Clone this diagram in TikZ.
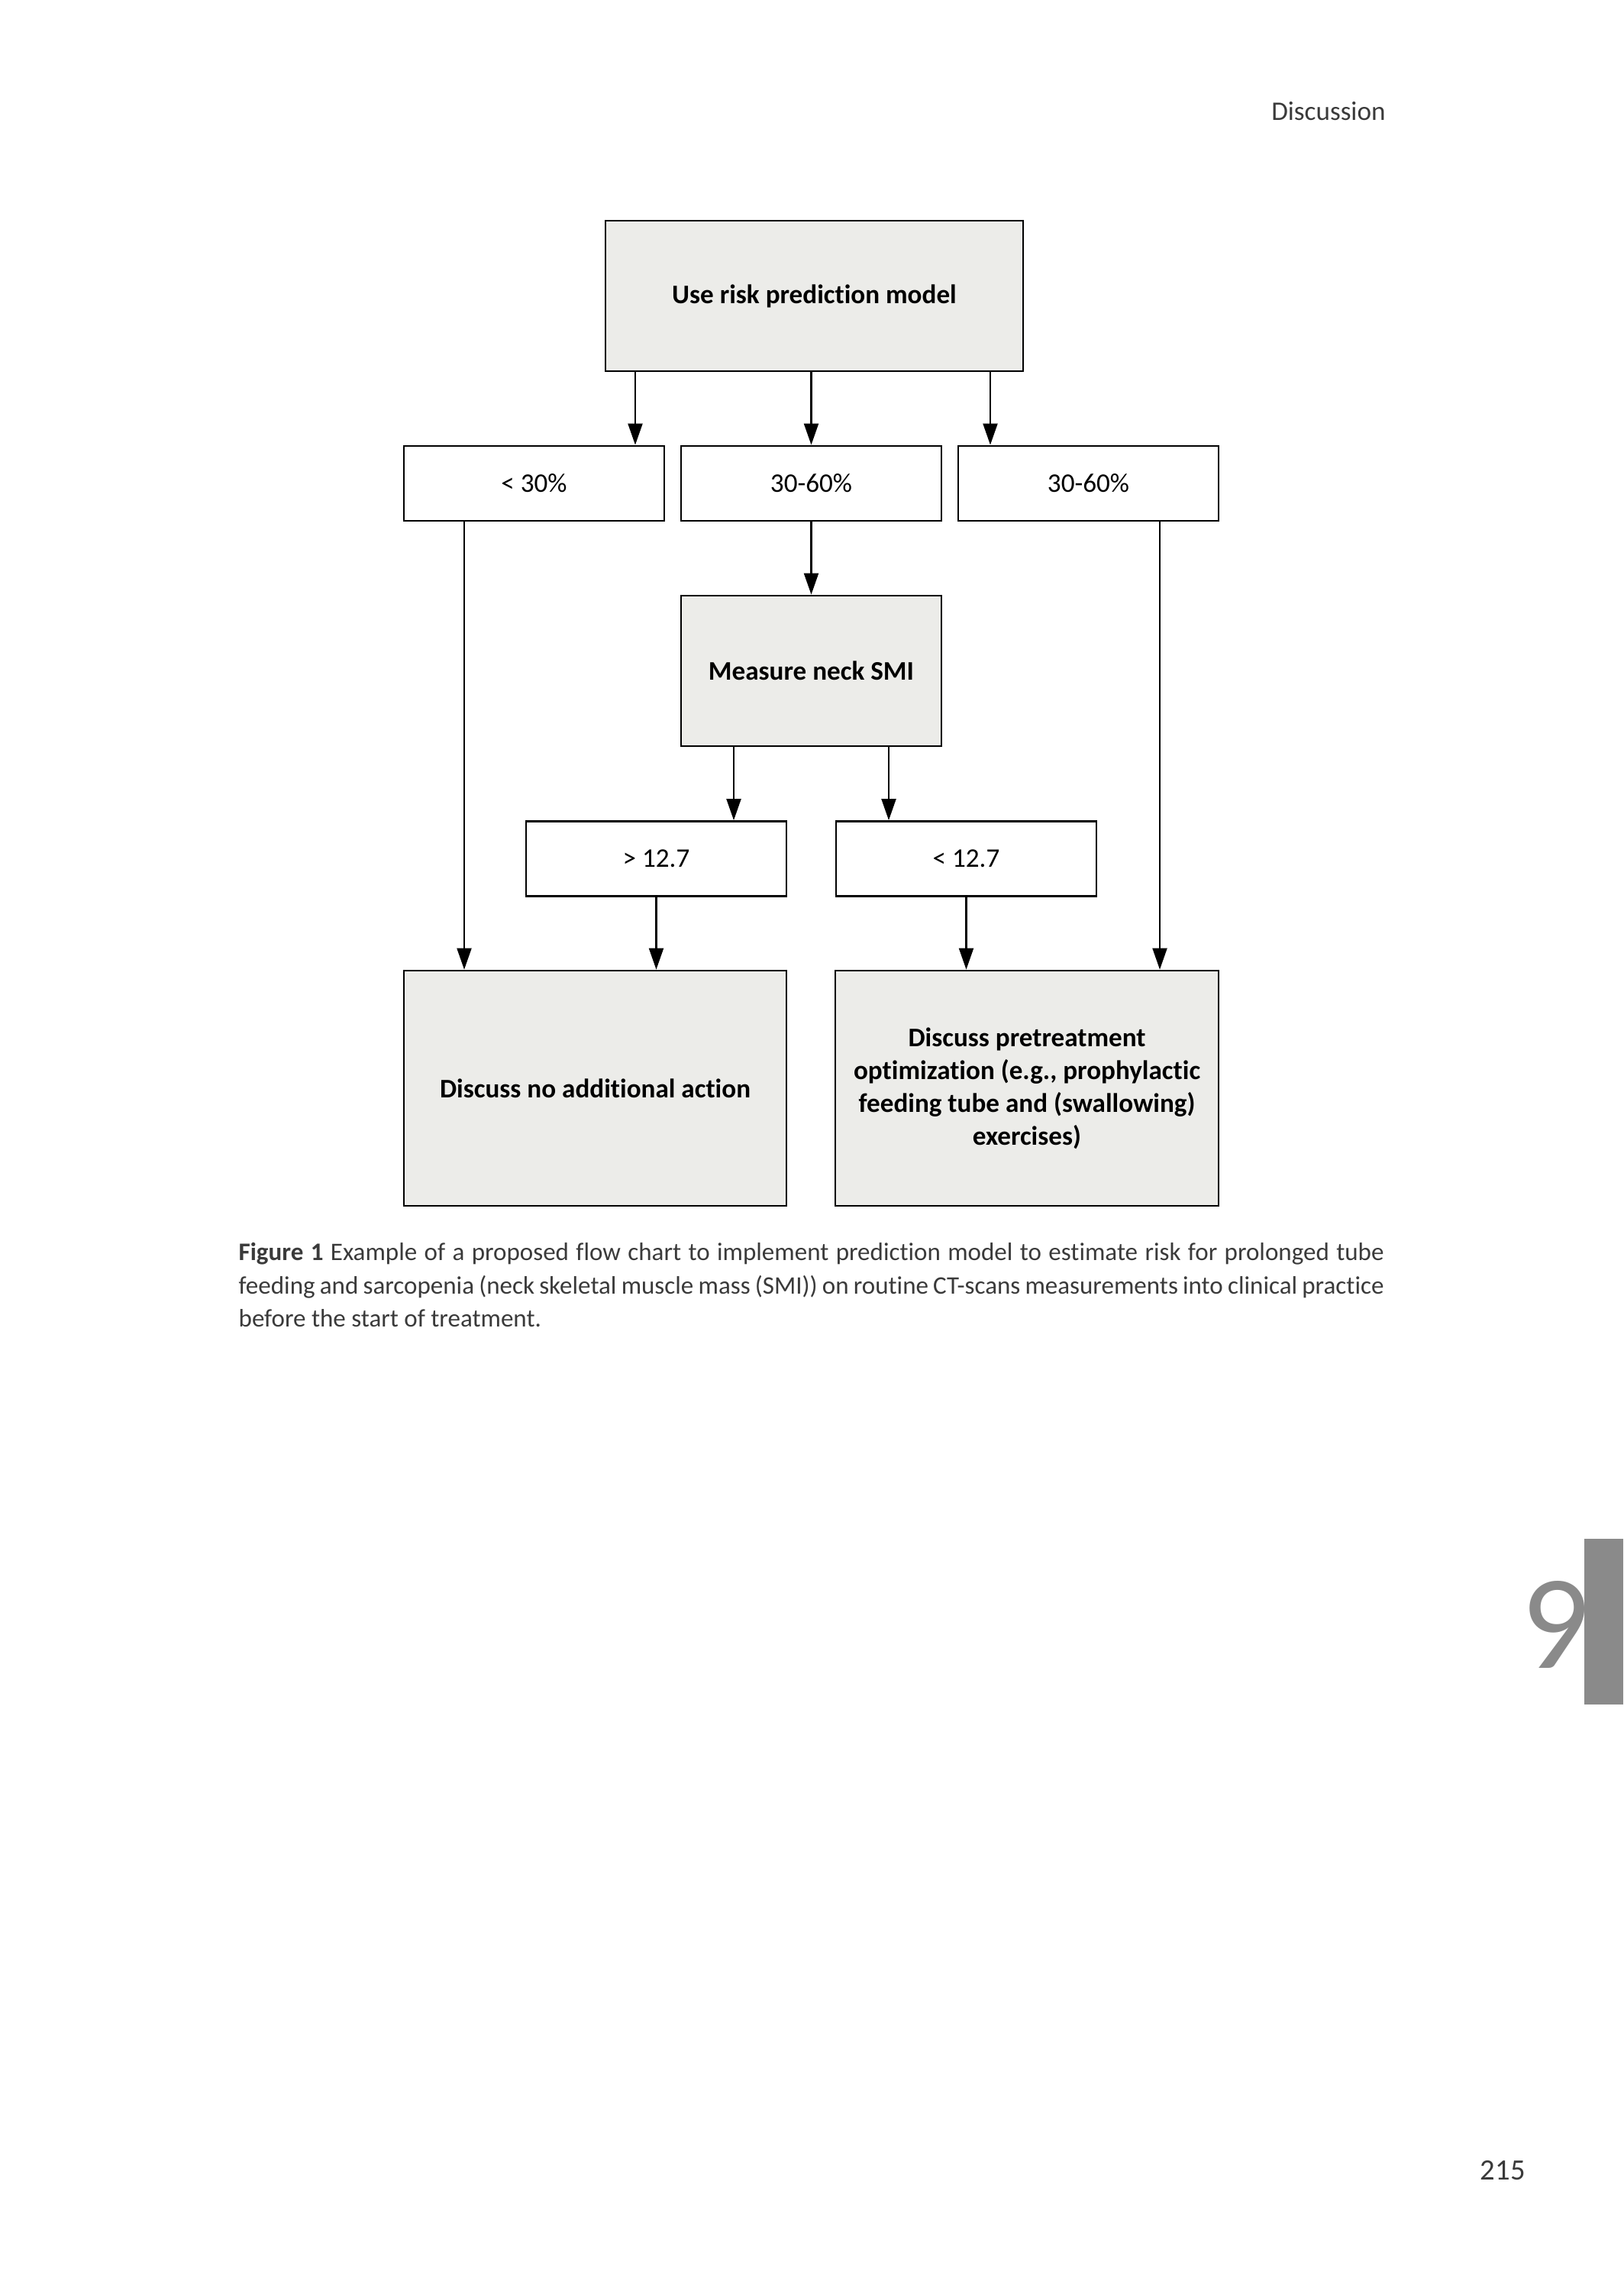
\documentclass[tikz,border=0pt]{standalone}
\usepackage{fontspec}
\setmainfont{Carlito}[Ligatures=NoCommon]
\usepackage{xcolor}
\usepackage{tikz}
\usetikzlibrary{arrows.meta}
\definecolor{boxfill}{HTML}{ECECE9}
\definecolor{pagetext}{HTML}{3A3A3A}
\definecolor{tabgray}{HTML}{8A8A8A}

\begin{document}
\begin{tikzpicture}[>={Triangle[length=2.8mm,width=1.9mm]},
  box/.style={draw,line width=0.8pt,inner sep=0pt,align=center,font=\fontsize{10}{12.2}\selectfont},
  shaded/.style={box,fill=boxfill,font=\fontsize{10}{12.2}\selectfont\bfseries},
  small/.style={minimum width=3.41cm,minimum height=0.98cm},
  arr/.style={->,line width=0.6pt}]
\useasboundingbox (0,0) rectangle (21.26,-30);
% page furniture
\node[anchor=base east,text=pagetext,font=\fontsize{10}{12}\selectfont] (head) at (18.27,-1.58) {Discussion};
\node[anchor=base east,text=pagetext,font=\fontsize{11}{13}\selectfont] (pnum) at (20.1,-28.54) {215};
\fill[tabgray] (20.75,-20.15) rectangle (21.26,-22.32);
\node[text=tabgray,font=\fontsize{50}{56}\selectfont] (chap) at (20.37,-21.27) {9};
% flow chart
\node[shaded,minimum width=5.47cm,minimum height=1.97cm] (model) at (10.665,-3.875) {Use risk prediction model};
\node[box,small] (low) at (6.995,-6.33) {< 30\%};
\node[box,small] (midA) at (10.625,-6.33) {30-60\%};
\node[box,small] (midB) at (14.255,-6.33) {30-60\%};
\node[shaded,minimum width=3.41cm,minimum height=1.97cm] (smi) at (10.625,-8.785) {Measure neck SMI};
\node[box,small] (above) at (8.595,-11.245) {> 12.7};
\node[box,small] (below) at (12.655,-11.245) {< 12.7};
\node[shaded,minimum width=5.01cm,minimum height=3.08cm] (noact) at (7.795,-14.25) {Discuss no additional action};
\node[shaded,minimum width=5.02cm,minimum height=3.08cm] (optim) at (13.45,-14.25)
  {Discuss pretreatment\\optimization (e.g., prophylactic\\feeding tube and (swallowing)\\exercises)};
\draw[arr] (model.south -| 8.32,0) -- (low.north -| 8.32,0);
\draw[arr] (model.south -| midA.north) -- (midA.north);
\draw[arr] (model.south -| 12.97,0) -- (midB.north -| 12.97,0);
\draw[arr] (midA) -- (smi);
\draw[arr] (smi.south -| 9.61,0) -- (above.north -| 9.61,0);
\draw[arr] (smi.south -| 11.64,0) -- (below.north -| 11.64,0);
\draw[arr] (low.south -| 6.08,0) -- (noact.north -| 6.08,0);
\draw[arr] (above) -- (above.south |- noact.north);
\draw[arr] (below) -- (below.south |- optim.north);
\draw[arr] (midB.south -| 15.19,0) -- (optim.north -| 15.19,0);
% caption
\begin{scope}[every node/.style={anchor=base west,inner sep=0pt,text=pagetext,font=\fontsize{9.4}{12}\selectfont}]
\node (capA) at (3.12,-16.50) {\makebox[15cm][s]{\textbf{Figure 1} Example of a proposed flow chart to implement prediction model to estimate risk for prolonged tube}};
\node (capB) at (3.12,-16.94) {\makebox[15cm][s]{feeding and sarcopenia (neck skeletal muscle mass (SMI)) on routine CT-scans measurements into clinical practice}};
\node (capC) at (3.12,-17.37) {before the start of treatment.};
\end{scope}
\end{tikzpicture}
\end{document}
